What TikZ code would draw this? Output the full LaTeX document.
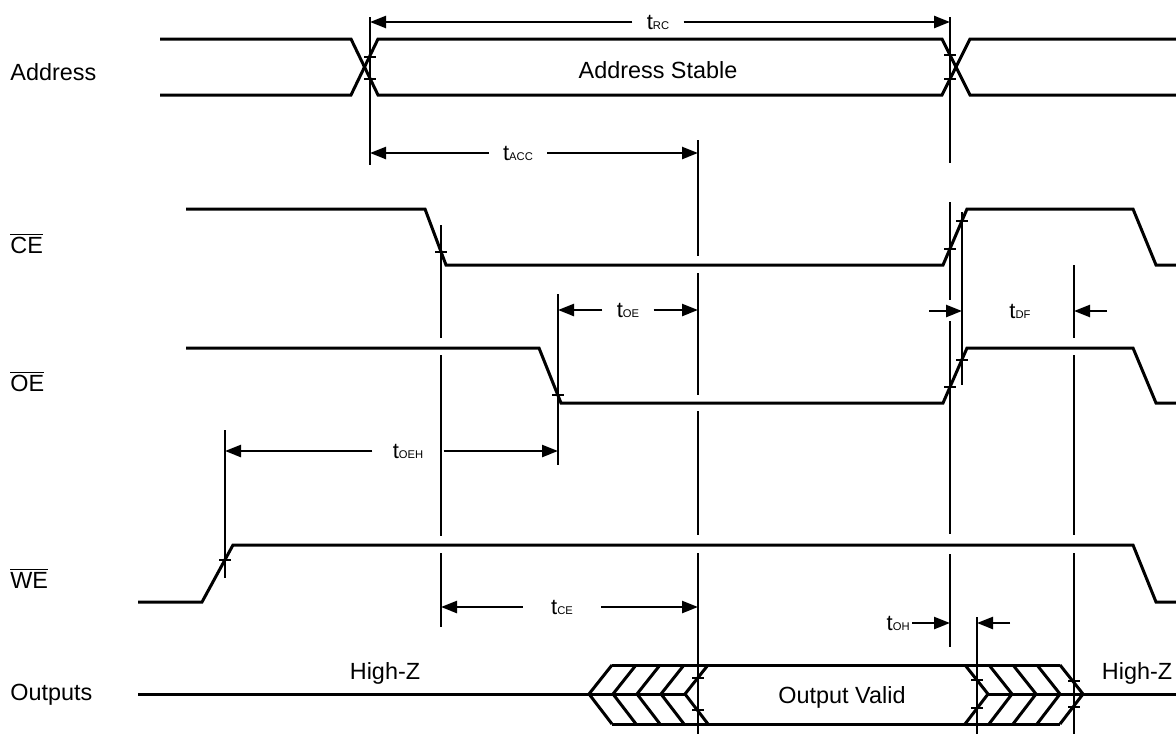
\documentclass[tikz,border=0pt]{standalone}
\usepackage{fontspec}
\setmainfont{Liberation Sans}
\usetikzlibrary{arrows.meta}

\newcommand{\tsub}[1]{{\fontsize{5.6}{6}\selectfont #1}}
\newcommand{\barred}[1]{$\overline{\hbox{#1}}$}

\tikzset{
  sig/.style={line width=1.5pt},
  guide/.style={line width=1.2pt},
  dimarr/.style={line width=1.2pt, -{Triangle[length=8pt,width=6pt]}},
  tlabel/.style={font=\fontsize{11}{13}\selectfont, inner xsep=7pt, inner ysep=2pt},
  siglabel/.style={font=\fontsize{11.7}{14}\selectfont, anchor=west, inner sep=0pt},
  txt/.style={font=\fontsize{11.7}{14}\selectfont, inner sep=1pt}
}

\begin{document}
\begin{tikzpicture}[x=0.5pt,y=-0.5pt]
\useasboundingbox (0,0) rectangle (1176,734);
\fill[white] (0,0) rectangle (1176,734);
% signal names
\node[siglabel] (addr) at (10,72) {Address};
\node[siglabel] (ce) at (10,243) {\barred{CE}};
\node[siglabel] (oe) at (10,381) {\barred{OE}};
\node[siglabel] (we) at (10,578) {\barred{WE}};
\node[siglabel] (outs) at (10,695) {Outputs};
% Address bus
\draw[sig] (160,39) -- (351,39) -- (378,95) -- (942,95) -- (970,39) -- (1176,39);
\draw[sig] (160,95) -- (351,95) -- (378,39) -- (942,39) -- (970,95) -- (1176,95);
\node[txt] (stable) at (658,70) {Address Stable};
% CE, OE, WE
\draw[sig] (186,209) -- (425,209) -- (446,265) -- (943,265) -- (967,209) -- (1133,209) -- (1156,265) -- (1176,265);
\draw[sig] (186,348) -- (539,348) -- (561,403) -- (943,403) -- (967,348) -- (1133,348) -- (1156,403) -- (1176,403);
\draw[sig] (138,602) -- (202,602) -- (233,545) -- (1133,545) -- (1156,602) -- (1176,602);
% Outputs
\draw[sig] (138,694) -- (685,694);
\draw[sig] (612,665) -- (1060,665);
\draw[sig] (612,724) -- (1060,724);
\draw[sig] (988,694) -- (1176,694);
\foreach \t in {589,613,637,661,685}
  \draw[sig] (\t+23,665) -- (\t,694) -- (\t+23,724);
\foreach \t in {988,1012,1036,1060,1083}
  \draw[sig] (\t-23,665) -- (\t,694) -- (\t-23,724);
\node[txt] (valid) at (842,697) {Output Valid};
\node[txt] (hizL) at (385,673) {High-Z};
\node[txt] (hizR) at (1137,673) {High-Z};
% timing reference lines
\foreach \x/\ya/\yb in {370/17/165, 950/17/163, 950/202/300, 950/321/534, 950/554/647,
    962/212/385, 698/140/256, 698/273/395, 698/411/535, 698/553/734,
    441/225/338, 441/355/536, 441/553/627, 558/294/465, 225/430/578,
    1074/265/338, 1074/355/535, 1074/553/734, 977/617/734}
  \draw[guide] (\x,\ya) -- (\x,\yb);
% crossing ticks
\foreach \x/\y in {370/57, 370/79, 950/55, 950/79, 441/252, 950/249, 962/221,
    558/395, 950/387, 962/360, 225/560, 698/678, 698/710, 977/680, 977/708,
    1074/681, 1074/707}
  \draw[guide] (\x-6,\y) -- (\x+6,\y);
% timing parameters
\coordinate (rcL) at (370,22);  \coordinate (rcR) at (950,22);
\node[tlabel] (tRC) at (658,22) {t\tsub{RC}};
\draw[dimarr] (tRC) -- (rcL);
\draw[dimarr] (tRC) -- (rcR);
\coordinate (accL) at (370,153); \coordinate (accR) at (698,153);
\node[tlabel] (tACC) at (518,153) {t\tsub{ACC}};
\draw[dimarr] (tACC) -- (accL);
\draw[dimarr] (tACC) -- (accR);
\coordinate (oeL) at (558,310); \coordinate (oeR) at (698,310);
\node[tlabel] (tOE) at (628,310) {t\tsub{OE}};
\draw[dimarr] (tOE) -- (oeL);
\draw[dimarr] (tOE) -- (oeR);
\coordinate (oehL) at (225,451); \coordinate (oehR) at (558,451);
\node[tlabel, inner xsep=10pt] (tOEH) at (408,451) {t\tsub{OEH}};
\draw[dimarr] (tOEH) -- (oehL);
\draw[dimarr] (tOEH) -- (oehR);
\coordinate (ceL) at (441,607); \coordinate (ceR) at (698,607);
\node[tlabel, inner xsep=14pt] (tCE) at (562,607) {t\tsub{CE}};
\draw[dimarr] (tCE) -- (ceL);
\draw[dimarr] (tCE) -- (ceR);
\coordinate (dfA) at (929,311); \coordinate (dfB) at (962,311);
\coordinate (dfC) at (1107,311); \coordinate (dfD) at (1074,311);
\node[tlabel] (tDF) at (1020,311) {t\tsub{DF}};
\draw[dimarr] (dfA) -- (dfB);
\draw[dimarr] (dfC) -- (dfD);
\coordinate (ohB) at (950,623);
\coordinate (ohC) at (1010,623); \coordinate (ohD) at (977,623);
\node[tlabel, anchor=east, inner xsep=1pt] (tOH) at (912,623) {t\tsub{OH}};
\draw[dimarr] (tOH) -- (ohB);
\draw[dimarr] (ohC) -- (ohD);
\end{tikzpicture}
\end{document}
